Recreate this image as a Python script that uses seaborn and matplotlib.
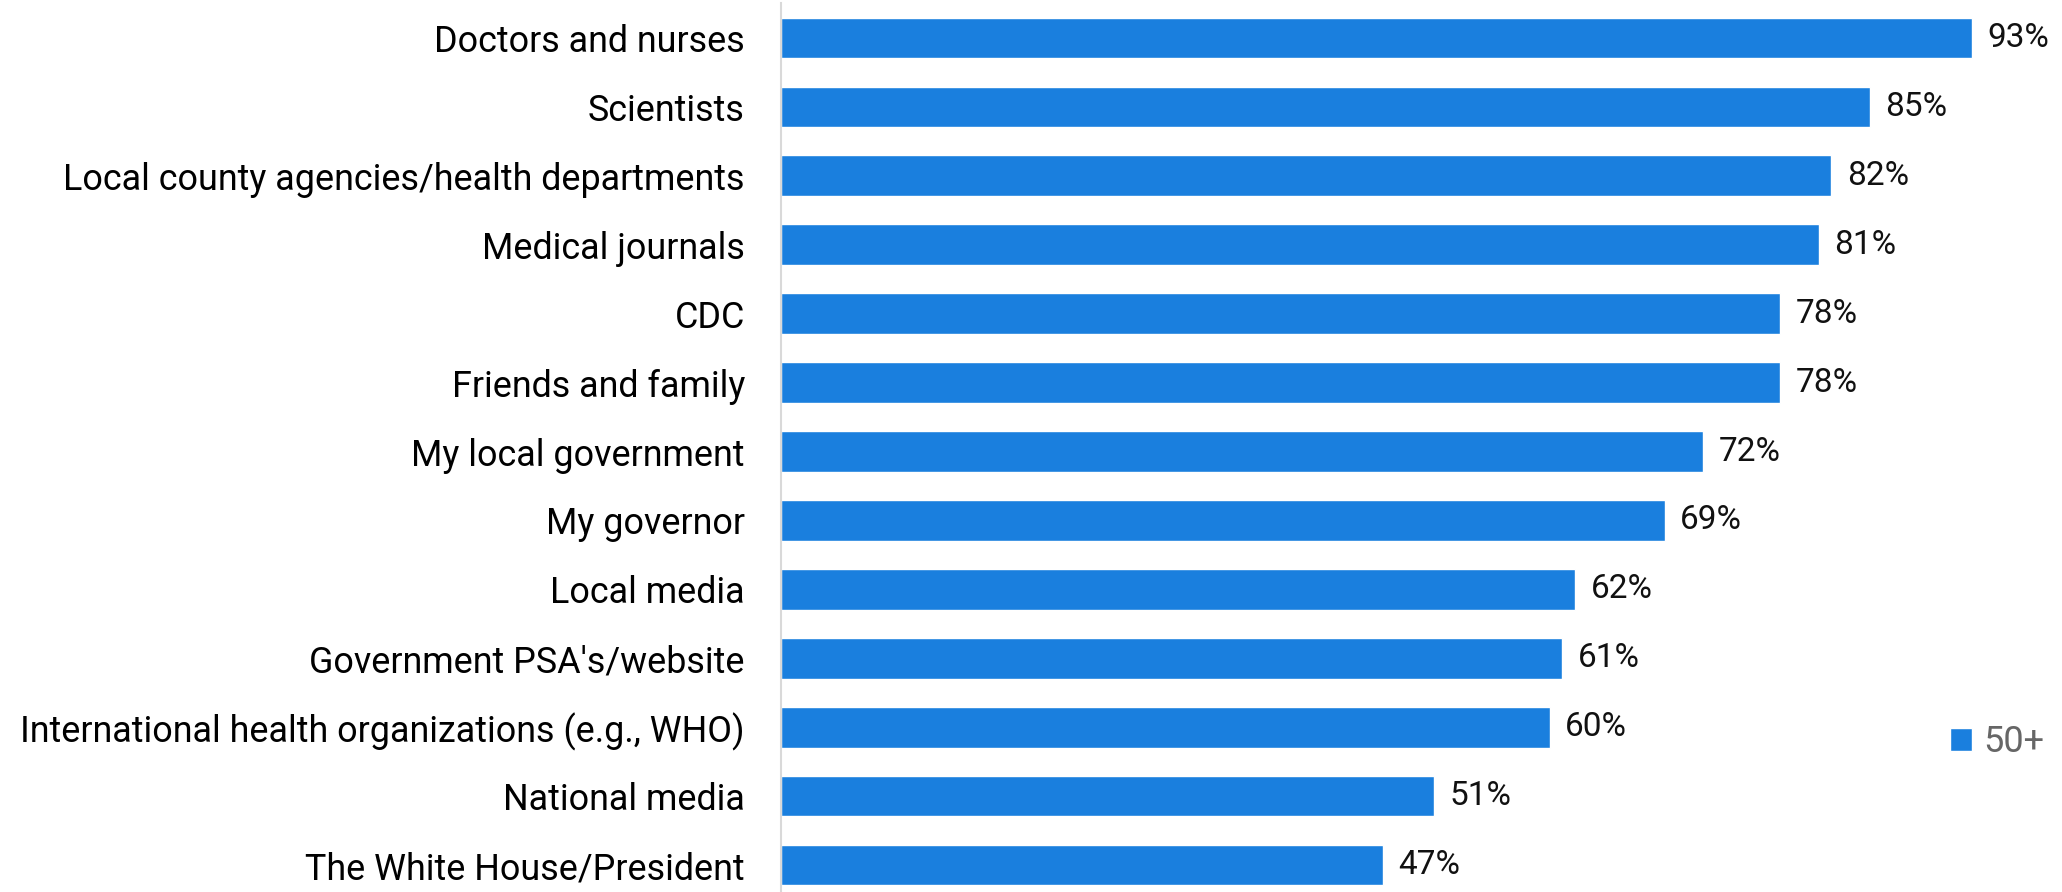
import matplotlib
matplotlib.use("Agg")
import matplotlib.pyplot as plt
import pandas as pd
import seaborn as sns
from matplotlib.patches import Patch

CATEGORIES = [
    "Doctors and nurses",
    "Scientists",
    "Local county agencies/health departments",
    "Medical journals",
    "CDC",
    "Friends and family",
    "My local government",
    "My governor",
    "Local media",
    "Government PSA's/website",
    "International health organizations (e.g., WHO)",
    "National media",
    "The White House/President",
]
VALUES = [93, 85, 82, 81, 78, 78, 72, 69, 62, 61, 60, 51, 47]
SERIES_NAME = "50+"

BAR_COLOR = "#1a7fde"
sns.set_theme(style="white")
plt.rcParams["font.family"] = ["Roboto", "DejaVu Sans"]

df = pd.DataFrame({"source": CATEGORIES, "pct": VALUES})

fig = plt.figure(figsize=(20.62, 8.92), dpi=100)
ax = fig.add_axes([781 / 2062, -7.5 / 892, 1 - 781 / 2062, 896 / 892])
sns.barplot(data=df, x="pct", y="source", color=BAR_COLOR, width=0.59,
            saturation=1, ax=ax)

ax.set_xlim(0, 100)
ax.set_ylim(len(CATEGORIES) - 0.5, -0.5)
ax.set_xlabel("")
ax.set_ylabel("")
ax.set_xticks([])
ax.tick_params(axis="y", length=0, pad=26, labelsize=25.8, labelcolor="#000000")
for side in ["top", "right", "bottom"]:
    ax.spines[side].set_visible(False)
ax.spines["left"].set_color("#d9d9d9")
ax.spines["left"].set_linewidth(1.5)

for i, v in enumerate(VALUES):
    ax.text(v + 1.2, i, f"{v}%", va="center", ha="left", fontsize=24, color="#111111")

handles = [Patch(facecolor=BAR_COLOR, label=SERIES_NAME)]
ax.legend(handles=handles, loc="center right", bbox_to_anchor=(1.0, 1 - 739 / 896),
          frameon=False, fontsize=26, handlelength=0.6, handleheight=0.6,
          handletextpad=0.3, labelcolor="#666666", borderaxespad=0.1)

fig.savefig("out.png", dpi=100)
